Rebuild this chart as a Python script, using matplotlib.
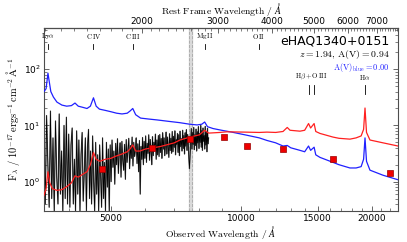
import numpy as np
import matplotlib
matplotlib.use('Agg')
import matplotlib.pyplot as plt
from matplotlib.ticker import FixedLocator, NullFormatter, FuncFormatter

plt.rcParams['mathtext.fontset'] = 'cm'
plt.rcParams['font.family'] = 'DejaVu Sans'

z = 1.94
name = 'eHAQ1340+0151'
av_red = 0.94
av_blue = 0.00

# observed spectrum (black), linear grid 3500-8400 A
spec_start, spec_end = 3500, 8400
spec_flux = [
    9.0, 0.4, 15.0, 2.0, 0.35, 18.0, 0.5, 6.0, 0.3, 12.0, 1.2, 0.4, 16.0, 0.6, 3.5, 0.3, 10.0, 0.5, 14.0, 0.4,
    7.0, 0.35, 4.5, 9.0, 0.4, 2.5, 0.3, 8.0, 0.6, 5.5, 0.3, 3.0, 7.5, 0.45, 1.5, 6.0, 0.3, 4.0, 8.5, 0.5,
    3.5, 0.4, 6.5, 1.0, 0.3, 5.0, 0.6, 3.0, 0.3, 4.5, 1.2, 0.35, 6.0, 0.5, 2.2, 0.3, 5.0, 0.8, 3.8, 0.3,
    4.5, 1.0, 5.5, 1.8, 3.5, 0.9, 4.8, 2.0, 5.8, 1.4, 3.2, 4.9, 1.2, 5.2, 2.4, 1.6, 4.6, 1.1, 5.6, 2.2,
    3.6, 5.9, 1.7, 4.4, 2.6, 6.2, 1.9, 5.0, 2.8, 3.6, 6.0, 2.1, 4.7, 1.5, 5.4, 0.6, 4.2, 2.5, 6.1, 2.0,
    5.2, 2.6, 6.5, 2.2, 4.8, 3.2, 6.8, 2.4, 5.6, 3.5, 2.0, 6.3, 2.9, 5.0, 3.6, 7.0, 2.5, 5.5, 3.0, 6.6,
    2.8, 6.9, 3.3, 5.8, 2.6, 7.4, 3.8, 6.0, 2.9, 4.4, 7.6, 3.1, 6.2, 4.0, 2.7, 7.1, 3.6, 5.9, 3.2, 7.8,
    3.4, 6.4, 4.1, 8.0, 3.0, 5.6, 4.6, 7.2, 3.3, 6.8, 2.9, 7.9, 4.2, 5.8, 3.5, 8.2, 3.9, 6.6, 3.1, 7.4,
    4.3, 8.4, 3.6, 6.9, 4.8, 2.6, 1.7, 3.0, 5.5, 8.8, 3.8, 7.5, 4.6, 9.2, 3.7, 6.8, 4.4, 8.6, 3.5, 7.7,
    4.9, 9.5, 3.9, 7.2, 5.0, 10.0, 4.1, 8.1, 3.6, 9.0, 5.2, 6.6, 3.8, 9.6, 4.5, 7.8, 3.4, 8.9, 4.7, 6.0,
]
spec_wave = np.linspace(spec_start, spec_end, len(spec_flux))

# unreddened template (blue)
blue_wave = [3500, 3540, 3575, 3600, 3630, 3680, 3750, 3850, 3950, 4050, 4128, 4200, 4300, 4400,
             4480, 4554, 4620, 4700, 4850, 5000, 5150, 5300, 5450, 5530, 5612, 5700, 5850, 6100,
             6400, 6800, 7200, 7600, 7900, 8100, 8226, 8350, 8600, 9000, 9500, 10192, 11000, 11457,
             12000, 12476, 12760, 13000, 13654, 14000, 14290, 14450, 14720, 14850, 15187, 16278,
             16800, 17809, 18400, 18900, 19150, 19295, 19450, 19810, 21231, 22995]
blue_flux = [40, 45, 85, 60, 40, 32, 26, 23, 22, 22.5, 25, 22, 21, 20,
             22, 31, 22, 19.5, 18.5, 17.5, 16.5, 16, 16.5, 18, 20, 15.5, 13.5, 13,
             12.5, 11.8, 11.2, 10.5, 10.2, 10.5, 11.5, 9.5, 8.8, 8.2, 7.6, 6.8, 6.0, 5.4,
             4.9, 4.3, 4.4, 4.0, 3.6, 3.4, 4.3, 3.6, 4.1, 3.0, 2.7, 2.2,
             2.0, 1.75, 1.75, 1.85, 2.5, 6.0, 2.3, 1.6, 1.3, 1.08]

# reddened template (red)
red_wave = [3500, 3540, 3575, 3610, 3660, 3750, 3850, 3955, 4050, 4128, 4200, 4300, 4400, 4480,
            4554, 4620, 4710, 4850, 5000, 5104, 5300, 5450, 5530, 5612, 5700, 5833, 6000, 6486,
            7000, 7214, 7600, 8000, 8226, 8400, 8926, 9265, 10192, 11000, 11457, 12000, 12476,
            12760, 12950, 13654, 14000, 14291, 14450, 14720, 14850, 15187, 16278, 16800, 17809,
            18400, 18900, 19150, 19295, 19450, 19810, 21231, 22995]
red_flux = [0.57, 0.75, 1.5, 0.95, 0.75, 0.7, 0.72, 0.82, 0.95, 1.27, 1.2, 1.35, 1.5, 2.0,
            3.3, 2.5, 2.3, 2.5, 2.6, 2.8, 3.1, 3.4, 3.8, 4.5, 3.5, 3.5, 3.8, 4.2,
            4.9, 5.5, 6.2, 6.8, 8.2, 7.3, 7.5, 7.7, 7.6, 7.5, 7.6, 7.5, 7.8,
            9.2, 8.2, 7.9, 8.2, 10.8, 9.0, 10.8, 7.8, 7.2, 6.2, 5.9, 5.7,
            6.0, 6.5, 8.5, 20.4, 7.5, 5.5, 4.9, 4.3]

# photometry: SDSS griz + UKIDSS YJHK
phot_wave = [4770, 6231, 7625, 9134, 10305, 12483, 16313, 22010]
phot_flux = [1.68, 4.0, 5.7, 6.2, 4.3, 3.85, 2.5, 1.43]

# emission lines (rest frame)
line_names = [r'$\mathrm{Ly}\alpha$', r'$\mathrm{C\,IV}$', r'$\mathrm{C\,III}$',
              r'$\mathrm{Mg\,II}$', r'$\mathrm{O\,II}$']
line_rest = [1216, 1549, 1909, 2798, 3727]

fig = plt.figure(figsize=(4.07, 2.42), dpi=100)
ax = fig.add_axes([0.108, 0.128, 0.870, 0.758])

ax.axvspan(7580, 7700, color='0.85', zorder=0)
ax.axvline(7580, color='0.65', ls='--', lw=0.6, zorder=0)
ax.axvline(7700, color='0.65', ls='--', lw=0.6, zorder=0)

ax.plot(spec_wave, spec_flux, color='0.45', lw=0.9, zorder=1)
ax.plot(spec_wave, spec_flux, color='k', lw=0.5, zorder=2)
ax.plot(blue_wave, blue_flux, color='#2020ff', lw=0.9, zorder=3)
ax.plot(red_wave, red_flux, color='#ff2020', lw=0.9, zorder=4)
ax.plot(phot_wave, phot_flux, 's', color='#ee0000', mec='#990000', mew=0.5, ms=5, zorder=5)

ax.set_xscale('log')
ax.set_yscale('log')
ax.set_xlim(3500, 23000)
ax.set_ylim(0.3, 550)

ax.xaxis.set_major_locator(FixedLocator([5000, 10000, 15000, 20000]))
ax.xaxis.set_major_formatter(FuncFormatter(lambda v, p: '%d' % v))
ax.xaxis.set_minor_locator(FixedLocator([v for v in range(4000, 23000, 1000) if v % 5000]))
ax.xaxis.set_minor_formatter(NullFormatter())
ax.tick_params(which='both', direction='in', labelsize=6.5, right=True, top=False, color='0.3', pad=2.5)
ax.tick_params(which='major', length=3.5, width=0.6)
ax.tick_params(which='minor', length=2, width=0.5)
for s in ax.spines.values():
    s.set_color('0.3')

sec = ax.secondary_xaxis('top', functions=(lambda w: w / (1 + z), lambda w: w * (1 + z)))
sec.xaxis.set_major_locator(FixedLocator([2000, 3000, 4000, 5000, 6000, 7000]))
sec.xaxis.set_major_formatter(FuncFormatter(lambda v, p: '%d' % v))
sec.xaxis.set_minor_locator(FixedLocator([v for v in range(1200, 7900, 100) if v % 1000]))
sec.xaxis.set_minor_formatter(NullFormatter())
sec.tick_params(which='both', direction='in', labelsize=6.5, color='0.3', pad=1)
sec.tick_params(which='major', length=3.5, width=0.6)
sec.tick_params(which='minor', length=2, width=0.5)
sec.set_xlabel(r'$\mathrm{Rest\ Frame\ Wavelength}\ /\ \AA$', fontsize=7, labelpad=2.5)

ax.set_xlabel(r'$\mathrm{Observed\ Wavelength}\ /\ \AA$', fontsize=7, labelpad=0.5)
ax.set_ylabel(r'$\mathrm{F}_\lambda\ /\ 10^{-17}\,\mathrm{ergs}^{-1}\,\mathrm{cm}^{-2}\,\mathrm{\AA}^{-1}$',
              fontsize=7.5, labelpad=1)

trans = ax.get_xaxis_transform()
for nm, lr in zip(line_names, line_rest):
    ax.text(lr * (1 + z), 0.952, nm, transform=trans, ha='center', va='center', fontsize=5)
    ax.plot([lr * (1 + z)] * 2, [0.883, 0.91], transform=trans, color='k', lw=0.6)

ax.text(4930 * (1 + z), 0.729, r'$\mathrm{H}\beta+\mathrm{O\,III}$', transform=trans,
        ha='center', va='center', fontsize=5)
for lr in [4861, 5007]:
    ax.plot([lr * (1 + z)] * 2, [0.638, 0.686], transform=trans, color='k', lw=0.6)
ax.text(6563 * (1 + z), 0.729, r'$\mathrm{H}\alpha$', transform=trans,
        ha='center', va='center', fontsize=5)
ax.plot([6563 * (1 + z)] * 2, [0.638, 0.686], transform=trans, color='k', lw=0.6)

ax.text(0.975, 0.925, name, transform=ax.transAxes, ha='right', va='center', fontsize=9)
ax.text(0.975, 0.852, r'$z=%.2f,\,\mathrm{A(V)}=%.2f$' % (z, av_red), transform=ax.transAxes,
        ha='right', va='center', fontsize=7)
ax.text(0.975, 0.785, r'$\mathrm{A(V)_{blue}}=%.2f$' % av_blue, transform=ax.transAxes,
        ha='right', va='center', fontsize=6, color='#2020ff')

fig.savefig('out.png', dpi=100)
